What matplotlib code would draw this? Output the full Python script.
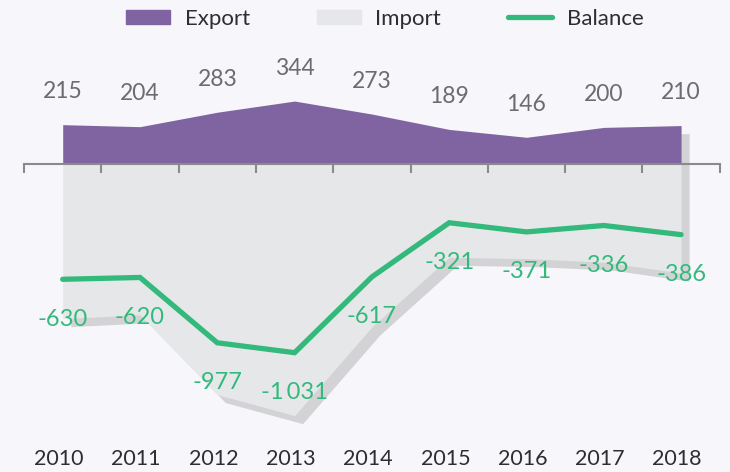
import numpy as np
import matplotlib.pyplot as plt
import matplotlib.patches as mpatches
from matplotlib.lines import Line2D

years = ['2010', '2011', '2012', '2013', '2014', '2015', '2016', '2017', '2018']
export = [215, 204, 283, 344, 273, 189, 146, 200, 210]
balance = [-630, -620, -977, -1031, -617, -321, -371, -336, -386]
balance_labels = ['-630', '-620', '-977', '-1\u2009031', '-617', '-321', '-371', '-336', '-386']
# import derived from export - balance
imports = [e - b for e, b in zip(export, balance)]

purple = '#8064a2'
light = '#e6e7e9'
shadow = '#d3d3d6'
green = '#33b97b'
bg = '#f7f6fb'

plt.rcParams['font.family'] = ['Lato', 'DejaVu Sans']

fig = plt.figure(figsize=(7.3, 4.72), dpi=100, facecolor=bg)
ax = fig.add_axes([0, 0, 1, 1])
ax.set_facecolor(bg)

x = np.arange(len(years))
exp = np.array(export)
imp = np.array(imports)

# pixel scale: 77.3 px per category, 0.183 px per unit
px_x = 77.3
px_y = 0.183
ax.set_xlim(-62.7 / px_x, (730 - 62.7) / px_x)
ax.set_ylim((164 - 472) / px_y, 164 / px_y)

# drop shadow of the whole shape
dx, dy = 8 / px_x, -8 / px_y
ax.fill_between(x + dx, exp + dy, -imp + dy, color=shadow, lw=0, zorder=1)
ax.fill_between(x, 0, -imp, color=light, lw=0, zorder=1.2)
ax.fill_between(x, 0, exp, color=purple, lw=0, zorder=1.3)

ax.plot(x, balance, color=green, lw=3.8, solid_capstyle='round',
        solid_joinstyle='miter', zorder=4)

for s in ['top', 'right', 'left']:
    ax.spines[s].set_visible(False)
ax.spines['bottom'].set_position(('data', 0))
ax.spines['bottom'].set_bounds(-0.5, len(years) - 0.5)
ax.spines['bottom'].set_color('#8a8a8c')
ax.spines['bottom'].set_linewidth(1.5)
ax.spines['bottom'].set_zorder(3)
ax.set_xticks(np.arange(len(years) + 1) - 0.5)
ax.set_xticklabels([])
ax.tick_params(axis='x', direction='out', length=6.5, width=1.5, color='#8a8a8c')
ax.set_yticks([])

for xi, v in zip(x, export):
    ax.annotate(str(v), (xi, v), xytext=(0, 33 * 0.72), textcoords='offset points',
                ha='center', va='center', fontsize=16.5, color='#6b6b70', zorder=5)

for xi, v, lab in zip(x, balance, balance_labels):
    ax.annotate(lab, (xi, v), xytext=(0, -40 * 0.72), textcoords='offset points',
                ha='center', va='center', fontsize=17, color=green, zorder=5)

for xi, yr in zip(x, years):
    ax.text(xi - 0.05, 1 - 459 / 472, yr, transform=ax.get_xaxis_transform(),
            ha='center', va='center', fontsize=15.5, color='#2e2e30')

handles = [mpatches.Patch(color=purple, label='Export'),
           mpatches.Patch(color=light, label='Import'),
           Line2D([0], [0], color=green, lw=3.8, solid_capstyle='round', label='Balance')]
leg = ax.legend(handles=handles, loc='center', bbox_to_anchor=(0.527, 0.96), ncol=3,
                frameon=False, fontsize=16, handlelength=2.0, handleheight=0.6,
                handletextpad=0.65, columnspacing=3.0)
for t in leg.get_texts():
    t.set_color('#2e2e30')

fig.savefig('out.png', dpi=100, facecolor=bg)
